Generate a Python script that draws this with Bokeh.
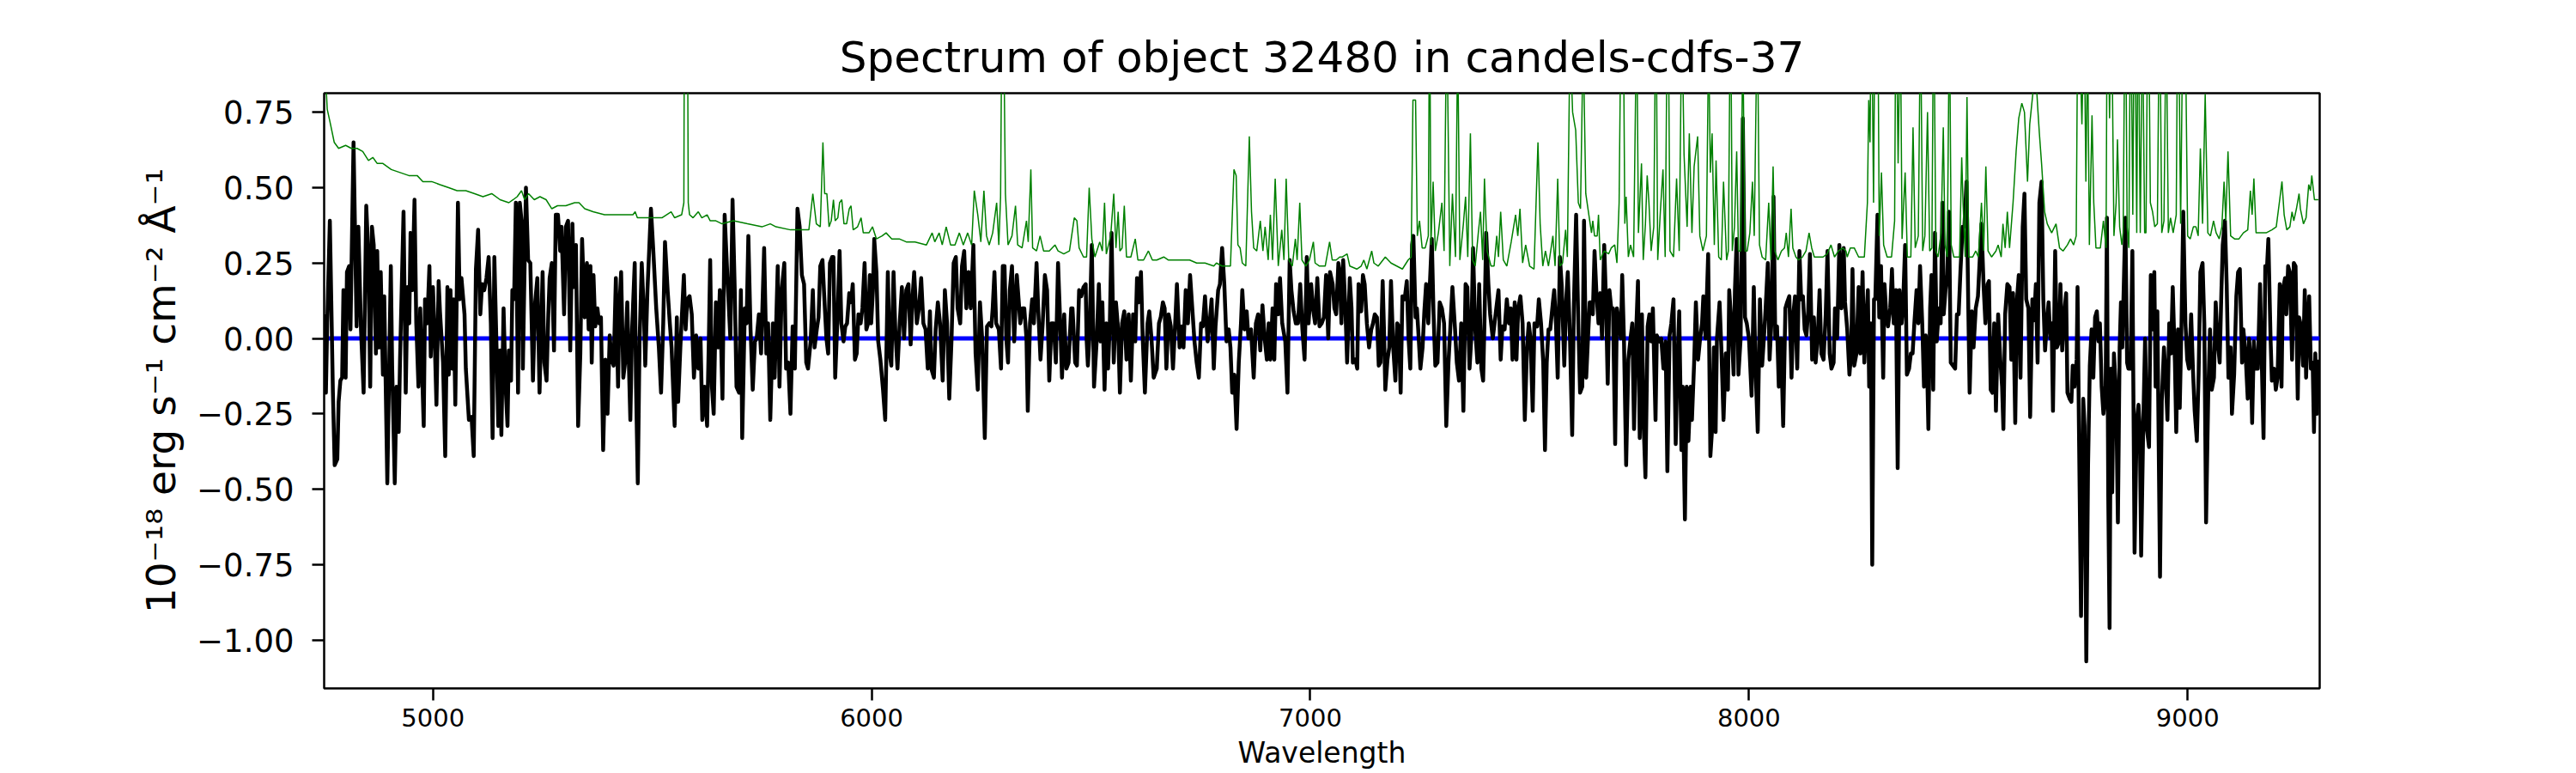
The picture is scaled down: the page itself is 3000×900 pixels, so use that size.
from bokeh.plotting import figure
from bokeh.models import Range1d, FixedTicker, CustomJSTickFormatter
from bokeh.embed import file_html
from bokeh.resources import INLINE

TITLE = "Spectrum of object 32480 in candels-cdfs-37"
X_LABEL = "Wavelength"
Y_LABEL = "10⁻¹⁸ erg s⁻¹ cm⁻² Å⁻¹"
X_TICKS = [5000, 6000, 7000, 8000, 9000]
Y_TICKS = [-1.0, -0.75, -0.5, -0.25, 0.0, 0.25, 0.5, 0.75]
X_LIMITS = (4752, 9301)
Y_LIMITS = (-1.160, 0.813)

# model (zero) line
ZERO_WAVE = [4752, 9301]
ZERO_FLUX = [0.0, 0.0]

FLUX_WAVE_1 = [
    4752, 4756, 4759, 4765, 4772, 4776, 4782, 4785, 4789, 4793,
    4796, 4801, 4804, 4809, 4812, 4819, 4826, 4830, 4836, 4842,
    4848, 4853, 4857, 4861, 4865, 4870, 4873, 4877, 4881, 4886,
    4889, 4896, 4904, 4907, 4913, 4917, 4922, 4925, 4933, 4938,
    4942, 4946, 4949, 4953, 4958, 4962, 4967, 4971, 4979, 4982,
    4987, 4992, 4995, 5000, 5003, 5008, 5013, 5016, 5023, 5028,
    5033, 5036, 5040, 5044, 5047, 5051, 5057, 5061, 5065, 5072,
    5075, 5082, 5088, 5093, 5098, 5103, 5108, 5112, 5117, 5122,
    5127, 5132, 5136, 5140, 5145, 5149, 5153, 5156, 5161, 5166,
    5170, 5173, 5178, 5181, 5185, 5189, 5194, 5198, 5202, 5205,
    5212, 5217, 5222, 5228, 5233, 5238, 5243, 5250, 5254, 5259,
    5263, 5266, 5271, 5276, 5280, 5285, 5290, 5293, 5299, 5303,
    5308, 5313, 5318, 5321, 5326, 5331, 5336]
FLUX_1 = [
    0.08, -0.18, 0.05, 0.39, -0.18, -0.42, -0.40, -0.21, -0.14, -0.13,
    0.16, -0.13, 0.22, 0.24, 0.03, 0.65, 0.04, 0.37, 0.03, -0.18,
    0.44, 0.27, -0.16, 0.37, 0.31, -0.05, 0.29, -0.03, 0.22, -0.12,
    0.14, -0.48, 0.24, -0.09, -0.48, -0.16, -0.31, -0.07, 0.42, -0.18,
    0.17, 0.05, 0.35, 0.16, 0.46, 0.05, -0.16, 0.10, -0.29, 0.13,
    0.05, 0.24, -0.06, 0.17, 0.05, -0.22, 0.19, 0.09, -0.08, -0.39,
    0.17, -0.12, 0.16, -0.10, 0.13, -0.22, 0.45, 0.13, 0.20, 0.08,
    -0.10, -0.27, -0.26, -0.39, 0.23, 0.36, 0.08, 0.18, 0.16, 0.20,
    0.27, 0.05, -0.33, 0.27, -0.03, -0.29, -0.04, -0.32, 0.10, -0.17,
    -0.29, -0.04, -0.14, 0.16, 0.13, 0.45, -0.18, 0.45, 0.39, -0.10,
    0.50, 0.26, 0.25, -0.14, 0.12, 0.20, -0.18, 0.22, -0.08, -0.14,
    0.08, 0.20, 0.25, -0.04, 0.41, 0.41, 0.29, 0.37, 0.08, 0.37,
    0.39, -0.04, 0.38, 0.17, 0.31, -0.29, -0.05]

FLUX_WAVE_2 = [
    5340, 5346, 5351, 5355, 5359, 5362, 5366, 5370, 5375, 5379,
    5383, 5388, 5393, 5398, 5403, 5407, 5412, 5417, 5422, 5425,
    5429, 5434, 5438, 5443, 5450, 5454, 5460, 5463, 5467, 5471,
    5476, 5481, 5484, 5489, 5497, 5502, 5509, 5515, 5520, 5525,
    5529, 5535, 5540, 5544, 5551, 5556, 5559, 5564, 5572, 5576,
    5580, 5585, 5590, 5595, 5600, 5605, 5610, 5614, 5619, 5625,
    5629, 5632, 5636, 5640, 5645, 5650, 5654, 5660, 5665, 5672,
    5678, 5683, 5688, 5692, 5698, 5702, 5705, 5711, 5715, 5719,
    5724, 5729, 5734, 5738, 5743, 5748, 5755, 5760, 5764, 5769,
    5775, 5779, 5786, 5790, 5795, 5801, 5805, 5810, 5815, 5820,
    5825, 5831, 5836, 5841, 5846, 5851, 5855, 5861, 5866, 5870,
    5875, 5879, 5883, 5888, 5892, 5897, 5901, 5905, 5910]
FLUX_2 = [
    0.33, 0.07, 0.25, 0.03, 0.24, -0.08, 0.21, 0.04, 0.10, 0.05,
    0.07, -0.37, -0.07, -0.25, 0.01, -0.07, -0.09, 0.20, -0.16, 0.10,
    0.22, -0.13, -0.08, 0.12, -0.27, 0.03, 0.25, -0.16, -0.48, -0.01,
    0.25, 0.08, -0.09, 0.16, 0.43, 0.30, 0.10, -0.03, -0.18, 0.05,
    0.32, 0.16, 0.05, -0.03, -0.29, 0.07, -0.21, -0.03, 0.21, 0.03,
    0.13, 0.14, 0.08, -0.13, 0.01, -0.10, 0.00, -0.27, -0.16, -0.29,
    0.00, 0.26, -0.16, -0.25, 0.12, -0.03, 0.16, -0.20, 0.41, 0.18,
    0.00, 0.46, 0.16, -0.16, -0.18, 0.16, -0.33, 0.10, 0.05, 0.34,
    0.03, -0.17, -0.01, 0.00, 0.08, -0.05, 0.30, -0.05, 0.05, -0.27,
    0.05, -0.13, 0.24, -0.16, 0.16, 0.25, -0.10, -0.08, -0.25, 0.04,
    -0.10, 0.43, 0.37, 0.21, 0.18, -0.08, -0.10, -0.01, 0.16, -0.03,
    0.03, 0.07, 0.24, 0.26, 0.14, 0.00, -0.05, 0.25, 0.27]

FLUX_WAVE_3 = [
    5913, 5917, 5923, 5927, 5931, 5936, 5940, 5944, 5949, 5953,
    5957, 5962, 5966, 5970, 5975, 5979, 5984, 5988, 5992, 5996,
    5999, 6003, 6006, 6011, 6015, 6020, 6026, 6031, 6037, 6041,
    6045, 6050, 6054, 6059, 6064, 6069, 6074, 6079, 6084, 6089,
    6093, 6097, 6103, 6108, 6113, 6118, 6123, 6128, 6133, 6136,
    6142, 6146, 6151, 6156, 6162, 6167, 6172, 6177, 6182, 6187,
    6192, 6196, 6202, 6206, 6211, 6216, 6221, 6226, 6232, 6237,
    6242, 6247, 6252, 6258, 6263, 6268, 6273, 6276, 6280, 6284,
    6290, 6295, 6299, 6303, 6307, 6311, 6315, 6320, 6325, 6331,
    6335, 6339, 6344, 6348, 6353, 6356, 6361, 6366, 6370, 6376,
    6380, 6385, 6390, 6395, 6400, 6405, 6410, 6415, 6420, 6425,
    6430, 6434, 6439, 6444, 6449, 6455, 6458, 6464, 6468, 6473,
    6478, 6483, 6488]
FLUX_3 = [
    0.27, -0.13, 0.10, 0.29, 0.05, -0.01, 0.04, 0.05, 0.15, 0.12,
    0.18, -0.07, -0.05, 0.08, 0.05, 0.10, 0.25, 0.03, 0.05, 0.21,
    0.05, 0.16, 0.33, 0.22, -0.01, -0.07, -0.17, -0.27, 0.22, -0.05,
    -0.09, 0.22, 0.03, -0.10, 0.05, 0.17, 0.00, 0.16, 0.18, -0.02,
    0.13, 0.22, 0.05, 0.10, 0.20, 0.05, 0.03, -0.10, 0.09, -0.10,
    -0.13, 0.03, 0.12, 0.05, -0.14, 0.16, 0.05, -0.20, -0.01, 0.25,
    0.27, 0.10, 0.05, 0.24, 0.29, 0.10, 0.22, 0.10, 0.31, -0.05,
    -0.17, 0.12, 0.00, -0.33, 0.04, 0.05, 0.04, 0.10, 0.22, 0.05,
    0.03, -0.10, 0.24, 0.24, 0.00, -0.08, 0.16, 0.24, -0.01, 0.21,
    0.13, 0.05, 0.10, 0.10, 0.00, -0.24, 0.05, 0.13, 0.05, 0.25,
    0.09, -0.07, 0.05, 0.21, 0.16, -0.14, 0.05, 0.05, -0.08, 0.25,
    0.05, -0.13, 0.08, -0.10, -0.08, 0.10, 0.10, -0.08, -0.09, 0.16,
    0.14, 0.17, 0.18]

FLUX_WAVE_4 = [
    6490, 6493, 6496, 6502, 6507, 6513, 6518, 6522, 6526, 6531,
    6535, 6539, 6543, 6547, 6552, 6557, 6562, 6566, 6571, 6576,
    6581, 6586, 6591, 6596, 6601, 6605, 6609, 6614, 6618, 6623,
    6629, 6633, 6638, 6643, 6650, 6655, 6659, 6664, 6668, 6672,
    6677, 6682, 6687, 6692, 6696, 6702, 6707, 6711, 6716, 6721,
    6726, 6731, 6736, 6741, 6746, 6751, 6755, 6760, 6766, 6770,
    6775, 6780, 6784, 6790, 6794, 6799, 6804, 6809, 6814, 6818,
    6822, 6827, 6832, 6837, 6842, 6845, 6850, 6855, 6859, 6865,
    6871, 6876, 6881, 6886, 6891, 6896, 6901, 6905, 6909, 6914,
    6918, 6922, 6927, 6931, 6936, 6943, 6948, 6953, 6957, 6962,
    6967, 6972, 6977, 6982, 6987, 6992, 6996, 7002, 7007, 7011,
    7016, 7021, 7026, 7031, 7036, 7041, 7045, 7051, 7055, 7059,
    7064]
FLUX_4 = [
    0.00, -0.09, -0.01, 0.31, -0.16, -0.01, 0.18, -0.01, 0.12, -0.17,
    0.05, -0.10, 0.05, 0.35, -0.08, 0.12, 0.03, -0.18, 0.05, 0.09,
    -0.07, 0.08, -0.14, 0.08, -0.01, 0.20, 0.12, 0.22, 0.00, -0.18,
    0.05, 0.09, 0.00, -0.13, -0.10, 0.05, 0.07, 0.12, 0.10, -0.10,
    0.08, 0.04, -0.10, 0.05, 0.18, -0.03, 0.04, -0.03, 0.16, 0.05,
    0.21, 0.10, -0.01, -0.08, -0.13, 0.05, 0.04, 0.14, -0.01, 0.04,
    0.13, -0.10, 0.04, 0.16, 0.18, 0.30, 0.18, -0.01, 0.03, -0.03,
    -0.18, -0.12, -0.30, -0.08, 0.05, 0.16, 0.03, 0.09, 0.00, 0.03,
    -0.13, 0.05, 0.08, -0.04, 0.11, 0.00, -0.07, 0.05, -0.07, 0.10,
    -0.07, 0.18, 0.08, 0.20, 0.05, -0.01, -0.18, 0.26, 0.16, 0.09,
    0.05, 0.05, 0.18, 0.03, -0.07, 0.27, 0.05, 0.18, 0.09, 0.05,
    0.20, 0.04, 0.05, 0.07, 0.21, 0.00, 0.22, 0.18, 0.10, 0.08,
    0.25]

FLUX_WAVE_5 = [
    7067, 7071, 7075, 7080, 7084, 7090, 7094, 7097, 7103, 7107,
    7110, 7116, 7120, 7124, 7129, 7134, 7139, 7143, 7147, 7152,
    7156, 7160, 7165, 7168, 7171, 7176, 7180, 7184, 7189, 7194,
    7198, 7202, 7206, 7210, 7215, 7220, 7224, 7228, 7232, 7235,
    7240, 7243, 7246, 7251, 7256, 7260, 7264, 7269, 7272, 7277,
    7281, 7285, 7290, 7295, 7300, 7305, 7310, 7315, 7319, 7324,
    7330, 7334, 7339, 7344, 7349, 7354, 7358, 7363, 7367, 7371,
    7376, 7381, 7385, 7390, 7394, 7397, 7401, 7406, 7410, 7416,
    7420, 7424, 7429, 7434, 7438, 7443, 7448, 7453, 7457, 7461,
    7466, 7470, 7474, 7479, 7484, 7489, 7494, 7498, 7502, 7507,
    7511, 7517, 7521, 7526, 7531, 7535, 7539, 7543, 7547, 7553,
    7556, 7560, 7564, 7569, 7573, 7579, 7583, 7587, 7592, 7597,
    7601, 7606, 7611, 7615, 7620, 7624, 7629, 7634, 7637, 7642]
FLUX_5 = [
    0.22, 0.05, 0.26, 0.10, -0.08, 0.20, 0.10, -0.08, -0.07, -0.10,
    0.18, 0.09, 0.21, 0.18, 0.05, -0.03, 0.03, 0.05, 0.08, 0.07,
    -0.09, -0.08, 0.19, 0.03, -0.17, -0.07, -0.03, 0.19, -0.03, -0.14,
    0.05, 0.04, -0.18, 0.14, 0.13, 0.19, 0.00, -0.10, 0.31, 0.34,
    0.07, 0.10, 0.03, -0.10, -0.03, 0.09, 0.18, 0.05, 0.16, 0.33,
    0.08, -0.09, -0.08, 0.12, 0.10, 0.05, -0.29, -0.08, 0.03, 0.17,
    0.03, -0.08, -0.14, 0.05, -0.24, 0.18, 0.17, -0.10, 0.00, 0.30,
    0.03, -0.08, 0.18, -0.10, -0.14, 0.05, 0.35, 0.18, 0.08, 0.00,
    0.05, 0.10, 0.16, -0.07, 0.04, 0.03, 0.13, 0.05, 0.10, -0.07,
    0.12, -0.07, 0.10, 0.14, 0.05, -0.27, -0.03, 0.05, 0.00, -0.24,
    0.05, 0.04, 0.13, 0.05, -0.08, -0.37, -0.08, 0.03, 0.03, 0.12,
    0.16, 0.05, -0.13, 0.27, 0.18, -0.09, 0.12, 0.22, 0.00, -0.32,
    0.12, 0.41, 0.05, -0.18, -0.16, 0.39, -0.13, 0.03, 0.12, 0.12]

FLUX_WAVE_6 = [
    7644, 7648, 7652, 7657, 7661, 7665, 7670, 7674, 7678, 7682,
    7686, 7690, 7695, 7699, 7704, 7708, 7711, 7715, 7720, 7725,
    7730, 7734, 7738, 7743, 7747, 7751, 7756, 7760, 7764, 7769,
    7773, 7777, 7781, 7787, 7790, 7796, 7800, 7805, 7810, 7814,
    7819, 7823, 7828, 7833, 7837, 7841, 7846, 7849, 7854, 7858,
    7862, 7867, 7870, 7875, 7879, 7884, 7888, 7893, 7896, 7901,
    7907, 7912, 7916, 7920, 7924, 7927, 7933, 7937, 7942, 7947,
    7952, 7955, 7960, 7965, 7968, 7972, 7976, 7981, 7986, 7991,
    7995, 8000, 8006, 8011, 8015, 8020, 8025, 8030, 8034, 8038,
    8043, 8047, 8051, 8056, 8060, 8064, 8068, 8073, 8078, 8083,
    8087, 8092, 8097, 8101, 8105, 8110, 8115, 8119, 8123, 8127,
    8131, 8135, 8139, 8144, 8148, 8152, 8157, 8161, 8165, 8170,
    8175, 8179, 8184, 8188, 8193, 8196, 8201, 8206, 8211, 8216,
    8219]
FLUX_6 = [
    0.08, 0.29, 0.16, 0.05, 0.15, 0.00, 0.31, 0.13, -0.15, 0.16,
    0.10, 0.10, -0.35, 0.10, 0.05, 0.00, 0.21, 0.00, -0.42, -0.07,
    0.00, 0.05, -0.30, 0.03, 0.19, -0.33, 0.08, -0.29, -0.46, 0.04,
    0.08, -0.01, 0.10, -0.27, 0.01, -0.01, 0.00, -0.10, -0.01, -0.44,
    0.01, 0.05, 0.13, -0.35, -0.08, 0.09, -0.37, -0.16, -0.60, -0.16,
    -0.34, -0.16, -0.27, -0.08, 0.12, -0.07, -0.01, 0.05, 0.14, 0.00,
    0.28, -0.39, -0.30, -0.03, -0.31, 0.00, 0.12, -0.03, -0.27, -0.05,
    -0.17, 0.16, 0.05, -0.12, 0.16, 0.33, -0.12, 0.00, 0.73, 0.07,
    0.05, 0.00, -0.19, 0.17, -0.10, -0.31, 0.13, -0.09, 0.00, 0.10,
    0.25, -0.07, 0.05, 0.47, 0.00, 0.04, -0.16, 0.00, -0.29, 0.10,
    0.12, 0.14, -0.13, 0.08, 0.14, -0.10, 0.29, 0.13, 0.14, 0.03,
    0.01, 0.09, 0.28, -0.07, 0.07, -0.08, 0.01, 0.16, -0.05, -0.07,
    0.08, 0.29, -0.05, -0.10, -0.08, 0.10, 0.00, 0.31, 0.10, 0.30,
    0.12]

FLUX_WAVE_7 = [
    8224, 8229, 8233, 8236, 8240, 8245, 8250, 8254, 8259, 8263,
    8267, 8271, 8274, 8278, 8281, 8285, 8288, 8293, 8297, 8301,
    8306, 8309, 8313, 8317, 8322, 8326, 8330, 8335, 8339, 8343,
    8348, 8351, 8356, 8360, 8365, 8369, 8373, 8377, 8382, 8386,
    8390, 8395, 8399, 8403, 8407, 8409, 8413, 8416, 8420, 8424,
    8428, 8433, 8437, 8441, 8444, 8448, 8452, 8456, 8460, 8465,
    8470, 8474, 8478, 8482, 8487, 8491, 8496, 8500, 8503, 8508,
    8512, 8517, 8522, 8527, 8530, 8535, 8539, 8544, 8547, 8551,
    8555, 8559, 8563, 8568, 8573, 8577, 8580, 8584, 8589, 8594,
    8598, 8602, 8607, 8611, 8615, 8619, 8624, 8628, 8632, 8637,
    8641, 8646, 8650, 8654, 8658, 8662, 8667, 8671, 8675, 8679,
    8683, 8687, 8690, 8693, 8698, 8702, 8707, 8710, 8714, 8718,
    8723, 8726, 8731, 8735, 8738, 8742, 8747, 8749, 8752, 8757,
    8762, 8765, 8769, 8773, 8777, 8781, 8785, 8789, 8793, 8797]
FLUX_7 = [
    0.03, -0.12, -0.05, 0.23, -0.09, -0.05, 0.17, -0.05, 0.22, -0.08,
    0.05, 0.16, -0.16, 0.05, -0.75, 0.13, 0.13, 0.41, 0.07, 0.24,
    -0.13, 0.18, 0.08, 0.04, 0.10, 0.23, 0.05, 0.16, -0.43, 0.16,
    0.05, 0.10, 0.31, -0.12, -0.10, -0.05, -0.05, 0.05, 0.16, 0.05,
    0.24, 0.05, -0.16, 0.01, -0.16, -0.30, 0.10, 0.21, -0.17, 0.35,
    -0.01, 0.10, 0.05, 0.45, 0.08, 0.16, 0.21, 0.42, -0.08, -0.09,
    -0.10, 0.08, 0.08, 0.22, 0.37, 0.37, 0.52, 0.10, -0.18, 0.09,
    -0.03, 0.10, 0.14, 0.29, 0.38, 0.17, 0.05, 0.18, 0.19, -0.17,
    -0.18, 0.05, -0.24, 0.08, -0.07, -0.16, -0.30, 0.08, 0.18, 0.17,
    -0.07, 0.15, -0.28, 0.13, 0.21, -0.13, 0.37, 0.48, 0.13, 0.10,
    -0.26, 0.13, 0.06, 0.18, -0.08, 0.45, 0.52, 0.13, -0.04, 0.05,
    0.12, 0.00, 0.05, -0.24, 0.29, -0.03, -0.01, 0.18, -0.04, 0.07,
    0.15, -0.18, -0.20, -0.21, -0.09, -0.16, -0.07, 0.17, -0.27, -0.92,
    -0.20, -0.29, -1.07, -0.42, -0.09, 0.03, -0.13, 0.07, 0.09, -0.01]

FLUX_WAVE_8 = [
    8800, 8804, 8808, 8813, 8816, 8819, 8822, 8825, 8828, 8832,
    8837, 8841, 8845, 8848, 8851, 8855, 8858, 8862, 8865, 8870,
    8874, 8879, 8884, 8888, 8891, 8894, 8899, 8903, 8907, 8912,
    8916, 8920, 8924, 8927, 8931, 8937, 8941, 8946, 8950, 8954,
    8958, 8962, 8966, 8971, 8974, 8978, 8982, 8986, 8990, 8995,
    8999, 9003, 9008, 9012, 9016, 9021, 9025, 9029, 9034, 9038,
    9042, 9047, 9051, 9055, 9060, 9064, 9068, 9073, 9077, 9080,
    9085, 9089, 9093, 9098, 9101, 9106, 9111, 9115, 9119, 9124,
    9127, 9132, 9137, 9140, 9144, 9147, 9151, 9155, 9160, 9165,
    9169, 9173, 9177, 9181, 9184, 9189, 9192, 9197, 9201, 9205,
    9210, 9214, 9217, 9222, 9225, 9229, 9233, 9238, 9242, 9246,
    9251, 9254, 9257, 9263, 9267, 9270, 9274, 9277, 9281, 9285,
    9288, 9291, 9295, 9298]
FLUX_8 = [
    0.05, -0.16, -0.25, -0.18, 0.40, -0.52, -0.96, -0.10, -0.51, -0.05,
    -0.18, -0.61, -0.03, 0.12, -0.03, 0.21, 0.40, -0.08, -0.10, -0.10,
    0.29, -0.71, -0.27, -0.22, -0.30, -0.72, -0.27, 0.00, -0.30, -0.36,
    0.21, 0.03, 0.22, -0.16, 0.09, -0.79, -0.21, -0.03, -0.13, -0.27,
    0.05, -0.05, 0.17, -0.08, -0.31, 0.03, -0.23, 0.05, 0.42, 0.05,
    -0.07, -0.10, 0.08, -0.10, -0.24, -0.34, -0.12, 0.22, 0.25, 0.05,
    -0.61, -0.18, 0.03, -0.17, -0.13, 0.12, 0.00, -0.08, 0.16, 0.31,
    0.39, 0.18, -0.13, -0.03, -0.25, -0.12, 0.14, 0.22, 0.23, -0.08,
    0.03, -0.05, -0.20, 0.00, -0.08, -0.28, -0.01, -0.10, -0.10, 0.18,
    -0.08, -0.33, 0.24, 0.24, 0.33, 0.00, -0.14, -0.10, -0.17, -0.13,
    0.18, -0.16, 0.16, 0.20, 0.08, 0.24, 0.22, -0.07, 0.25, 0.24,
    -0.20, 0.07, 0.05, -0.09, 0.16, -0.13, 0.05, 0.14, -0.10, -0.08,
    -0.31, -0.05, -0.25, -0.07]

# ---- noise / sky spectrum (green) in segments ----
ERR_WAVE_1 = [
    4752, 4757, 4759, 4765, 4775, 4785, 4801, 4814, 4827, 4840,
    4853, 4863, 4873, 4886, 4905, 4925, 4945, 4964, 4977, 4997,
    5016, 5036, 5055, 5075, 5095, 5114, 5134, 5153, 5173, 5183,
    5192, 5202, 5209, 5218, 5231, 5244, 5258, 5271, 5284, 5303,
    5323]
ERR_1 = [
    0.95, 0.82, 0.76, 0.72, 0.65, 0.63, 0.64, 0.63, 0.63, 0.62,
    0.59, 0.60, 0.58, 0.58, 0.56, 0.55, 0.54, 0.54, 0.52, 0.52,
    0.51, 0.50, 0.49, 0.49, 0.48, 0.47, 0.48, 0.46, 0.45, 0.46,
    0.47, 0.49, 0.46, 0.48, 0.46, 0.47, 0.46, 0.43, 0.44, 0.44,
    0.45]

ERR_WAVE_2 = [
    5333, 5346, 5365, 5391, 5411, 5430, 5456, 5461, 5466, 5489,
    5522, 5543, 5551, 5567, 5572, 5574, 5579, 5582, 5585, 5593,
    5605, 5613, 5625, 5632, 5645, 5659, 5685, 5717, 5750, 5769,
    5782, 5815, 5841, 5857, 5866, 5874, 5883, 5889, 5893, 5898,
    5903, 5908]
ERR_2 = [
    0.45, 0.43, 0.42, 0.41, 0.41, 0.41, 0.41, 0.42, 0.40, 0.40,
    0.40, 0.42, 0.40, 0.41, 0.45, 1.60, 1.60, 0.45, 0.41, 0.40,
    0.42, 0.40, 0.41, 0.39, 0.39, 0.38, 0.39, 0.38, 0.37, 0.38,
    0.37, 0.36, 0.36, 0.36, 0.48, 0.38, 0.37, 0.65, 0.48, 0.48,
    0.37, 0.39]

ERR_WAVE_3 = [
    5913, 5917, 5923, 5927, 5932, 5937, 5943, 5949, 5953, 5958,
    5968, 5976, 5981, 5994, 6002, 6011, 6024, 6033, 6046, 6063,
    6079, 6099, 6125, 6138, 6144, 6154, 6161, 6170, 6180, 6190,
    6200, 6209, 6219, 6228, 6234, 6242, 6249, 6256, 6262, 6268,
    6276, 6285, 6290, 6294, 6297, 6302, 6305, 6311, 6320, 6328,
    6333, 6343, 6353, 6357, 6363, 6367, 6376, 6384, 6392, 6405,
    6418, 6425, 6438, 6451, 6462, 6468, 6473, 6483, 6490]
ERR_3 = [
    0.46, 0.39, 0.40, 0.45, 0.46, 0.38, 0.38, 0.43, 0.44, 0.36,
    0.37, 0.40, 0.35, 0.35, 0.37, 0.33, 0.34, 0.35, 0.33, 0.33,
    0.32, 0.32, 0.31, 0.35, 0.32, 0.35, 0.31, 0.37, 0.31, 0.31,
    0.35, 0.31, 0.35, 0.31, 0.49, 0.41, 0.32, 0.49, 0.34, 0.31,
    0.35, 0.45, 0.31, 0.47, 1.10, 0.90, 0.48, 0.31, 0.34, 0.44,
    0.31, 0.30, 0.39, 0.32, 0.56, 0.30, 0.29, 0.34, 0.29, 0.29,
    0.31, 0.29, 0.28, 0.29, 0.40, 0.39, 0.30, 0.27, 0.27]

ERR_WAVE_4 = [
    6496, 6502, 6509, 6520, 6526, 6531, 6535, 6545, 6552, 6557,
    6562, 6566, 6571, 6576, 6581, 6591, 6601, 6607, 6620, 6631,
    6640, 6650, 6666, 6676, 6695, 6708, 6725, 6741, 6760, 6780,
    6786, 6799, 6818, 6826, 6831, 6835, 6840, 6845, 6853, 6861,
    6866, 6871, 6878, 6886, 6892, 6897, 6904, 6909, 6914, 6920,
    6927, 6935, 6940, 6945, 6951, 6959, 6966, 6970, 6976, 6981,
    6990, 6998, 7007, 7011, 7021, 7034, 7044, 7050, 7059, 7067]
ERR_4 = [
    0.50, 0.33, 0.27, 0.32, 0.29, 0.45, 0.28, 0.34, 0.48, 0.30,
    0.42, 0.29, 0.30, 0.44, 0.27, 0.27, 0.33, 0.26, 0.26, 0.29,
    0.26, 0.26, 0.27, 0.26, 0.26, 0.26, 0.26, 0.25, 0.25, 0.24,
    0.25, 0.24, 0.24, 0.56, 0.54, 0.31, 0.30, 0.25, 0.24, 0.67,
    0.42, 0.30, 0.29, 0.39, 0.29, 0.37, 0.26, 0.41, 0.26, 0.53,
    0.24, 0.36, 0.26, 0.53, 0.26, 0.24, 0.33, 0.26, 0.45, 0.26,
    0.24, 0.26, 0.32, 0.25, 0.24, 0.24, 0.32, 0.26, 0.26, 0.27]

ERR_WAVE_5 = [
    7073, 7084, 7090, 7106, 7116, 7122, 7129, 7140, 7145, 7155,
    7171, 7184, 7197, 7210, 7223, 7230, 7234, 7240, 7244, 7249,
    7255, 7262, 7269, 7272, 7275, 7280, 7285, 7292, 7300, 7305,
    7311, 7318, 7324, 7331, 7336, 7341, 7349, 7354, 7359, 7365,
    7370, 7376, 7383, 7388, 7393, 7397, 7403, 7412, 7419, 7425,
    7429, 7434, 7440, 7448, 7458, 7468, 7473, 7478, 7484, 7491,
    7500, 7510, 7519, 7524, 7530, 7536, 7543, 7553, 7558, 7564,
    7569, 7575, 7582, 7586, 7592, 7598, 7605, 7611, 7616, 7622,
    7628, 7634, 7641]
ERR_5 = [
    0.27, 0.28, 0.24, 0.23, 0.24, 0.26, 0.23, 0.29, 0.25, 0.24,
    0.27, 0.25, 0.24, 0.23, 0.26, 0.27, 0.79, 0.79, 0.34, 0.39,
    0.30, 0.30, 0.34, 1.20, 0.31, 0.52, 0.29, 0.35, 0.45, 0.29,
    1.10, 0.24, 0.48, 0.27, 1.00, 0.26, 0.38, 0.47, 0.27, 0.68,
    0.26, 0.24, 0.35, 0.42, 0.26, 0.53, 0.29, 0.24, 0.24, 0.34,
    0.27, 0.42, 0.26, 0.24, 0.32, 0.41, 0.34, 0.43, 0.25, 0.31,
    0.24, 0.23, 0.65, 0.38, 0.24, 0.29, 0.24, 0.34, 0.24, 0.53,
    0.24, 0.25, 0.36, 0.27, 1.00, 0.75, 0.69, 0.45, 0.43, 1.00,
    0.48, 0.42, 0.35]

ERR_WAVE_6 = [
    7644, 7648, 7654, 7657, 7661, 7670, 7680, 7686, 7694, 7699,
    7704, 7709, 7714, 7717, 7720, 7725, 7730, 7737, 7744, 7748,
    7755, 7759, 7764, 7768, 7772, 7777, 7783, 7788, 7792, 7798,
    7804, 7809, 7815, 7820, 7828, 7835, 7841, 7847, 7852, 7859,
    7864, 7870, 7875, 7883, 7888, 7895, 7903, 7908, 7912, 7916,
    7921, 7925, 7931, 7937, 7942, 7949, 7953, 7958, 7962, 7967,
    7972, 7976, 7981, 7986, 7991, 7996, 8002, 8008, 8012, 8019,
    8024, 8030, 8038, 8045, 8050, 8055, 8059, 8066, 8074, 8081,
    8085, 8090, 8096, 8100, 8107, 8113, 8122, 8130, 8137, 8143,
    8149, 8159, 8169, 8178, 8187, 8195, 8204, 8214, 8221]
ERR_6 = [
    0.39, 0.34, 0.34, 0.41, 0.26, 0.29, 0.28, 0.30, 0.31, 0.25,
    0.45, 1.20, 1.00, 0.38, 0.47, 0.27, 0.31, 0.27, 1.10, 0.35,
    0.58, 0.26, 0.38, 0.54, 0.45, 0.29, 0.37, 1.20, 0.26, 0.42,
    0.56, 0.27, 1.30, 0.29, 0.27, 0.53, 0.29, 1.10, 0.61, 0.37,
    0.68, 0.35, 0.57, 0.67, 0.34, 0.29, 0.34, 1.00, 0.55, 0.68,
    0.31, 0.59, 0.27, 0.26, 0.52, 0.26, 0.29, 1.20, 0.29, 0.37,
    0.62, 0.29, 0.29, 1.00, 0.29, 0.29, 0.35, 0.52, 0.34, 1.10,
    0.31, 0.27, 0.26, 0.45, 0.26, 0.57, 0.29, 0.26, 0.29, 0.30,
    0.35, 0.27, 0.43, 0.30, 0.27, 0.26, 0.27, 0.29, 0.35, 0.30,
    0.27, 0.27, 0.27, 0.28, 0.31, 0.27, 0.29, 0.30, 0.29]

ERR_WAVE_7 = [
    8224, 8231, 8240, 8250, 8263, 8270, 8273, 8276, 8279, 8284,
    8288, 8293, 8297, 8302, 8307, 8315, 8325, 8332, 8335, 8340,
    8345, 8349, 8356, 8361, 8369, 8374, 8379, 8386, 8391, 8396,
    8401, 8407, 8412, 8417, 8421, 8426, 8431, 8438, 8443, 8447,
    8452, 8457, 8461, 8467, 8475, 8480, 8485, 8488, 8493, 8497,
    8501, 8510, 8517, 8523, 8530, 8535, 8540, 8545, 8553, 8563,
    8568, 8575, 8579, 8584, 8589, 8594, 8602, 8609, 8615, 8622,
    8628, 8635, 8640, 8647, 8651, 8658, 8662, 8667, 8674, 8680,
    8690, 8700, 8708, 8716, 8726, 8733, 8740, 8746, 8750, 8759,
    8764, 8768, 8772, 8776, 8782, 8786, 8791, 8798]
ERR_7 = [
    0.27, 0.30, 0.30, 0.27, 0.27, 0.45, 0.79, 0.65, 1.20, 0.45,
    1.30, 1.30, 0.34, 0.55, 0.31, 0.27, 0.27, 0.39, 1.20, 0.58,
    1.10, 0.33, 0.55, 0.27, 0.27, 0.70, 0.30, 0.34, 1.10, 0.29,
    0.34, 0.75, 0.29, 0.30, 1.20, 0.29, 0.27, 0.35, 0.70, 0.31,
    0.27, 1.10, 0.31, 0.27, 0.27, 0.27, 0.60, 0.45, 0.27, 0.80,
    0.27, 0.27, 0.29, 0.27, 0.45, 0.29, 0.57, 0.29, 0.27, 0.29,
    0.31, 0.27, 0.38, 0.30, 0.42, 0.30, 0.45, 0.62, 0.73, 0.78,
    0.75, 0.52, 0.71, 0.81, 0.95, 0.77, 0.68, 0.58, 0.42, 0.38,
    0.35, 0.38, 0.30, 0.29, 0.31, 0.33, 0.31, 0.34, 1.20, 0.71,
    1.10, 0.52, 1.00, 0.31, 0.74, 0.45, 0.30, 0.30]

ERR_WAVE_8 = [
    8801, 8808, 8814, 8817, 8822, 8826, 8832, 8837, 8840, 8845,
    8850, 8853, 8858, 8862, 8866, 8870, 8875, 8879, 8884, 8887,
    8892, 8897, 8902, 8905, 8910, 8915, 8920, 8925, 8931, 8936,
    8941, 8946, 8951, 8956, 8961, 8967, 8974, 8978, 8984, 8990,
    8995, 9000, 9006, 9013, 9019, 9024, 9029, 9034, 9040, 9046,
    9052, 9059, 9065, 9072, 9078, 9083, 9087, 9092, 9098, 9107,
    9117, 9127, 9137, 9143, 9147, 9151, 9156, 9166, 9179, 9192,
    9202, 9209, 9215, 9220, 9226, 9233, 9238, 9242, 9248, 9254,
    9257, 9264, 9270, 9276, 9280, 9283, 9289, 9294, 9298]
ERR_8 = [
    0.30, 0.39, 0.30, 1.30, 0.73, 1.20, 0.34, 0.45, 0.66, 0.37,
    0.31, 0.35, 1.30, 0.37, 0.30, 1.20, 0.41, 1.30, 0.35, 1.20,
    0.35, 1.10, 0.35, 0.35, 1.30, 0.45, 0.42, 0.37, 0.38, 1.20,
    0.35, 0.39, 1.10, 0.35, 0.40, 0.35, 0.41, 1.30, 0.38, 1.20,
    1.00, 0.34, 0.33, 0.37, 0.37, 0.34, 0.63, 0.38, 0.81, 0.35,
    0.34, 0.39, 0.35, 0.33, 0.37, 0.52, 0.39, 0.62, 0.34, 0.33,
    0.33, 0.35, 0.36, 0.49, 0.41, 0.53, 0.35, 0.35, 0.35, 0.36,
    0.37, 0.45, 0.52, 0.41, 0.36, 0.37, 0.42, 0.39, 0.43, 0.48,
    0.43, 0.38, 0.40, 0.51, 0.49, 0.54, 0.46, 0.46, 0.46]


def join(pairs):
    xs, ys = [], []
    for w, f in pairs:
        if len(w) != len(f):
            raise ValueError("segment length mismatch %d vs %d" % (len(w), len(f)))
        xs.extend(w)
        ys.extend(f)
    return xs, ys


flux_wave, flux = join([
    (FLUX_WAVE_1, FLUX_1), (FLUX_WAVE_2, FLUX_2), (FLUX_WAVE_3, FLUX_3),
    (FLUX_WAVE_4, FLUX_4), (FLUX_WAVE_5, FLUX_5), (FLUX_WAVE_6, FLUX_6),
    (FLUX_WAVE_7, FLUX_7), (FLUX_WAVE_8, FLUX_8)])
err_wave, err = join([
    (ERR_WAVE_1, ERR_1), (ERR_WAVE_2, ERR_2), (ERR_WAVE_3, ERR_3),
    (ERR_WAVE_4, ERR_4), (ERR_WAVE_5, ERR_5), (ERR_WAVE_6, ERR_6),
    (ERR_WAVE_7, ERR_7), (ERR_WAVE_8, ERR_8)])

FONT = "DejaVu Sans"

p = figure(
    width=3000, height=900,
    x_range=Range1d(*X_LIMITS), y_range=Range1d(*Y_LIMITS),
    output_backend="svg", toolbar_location=None,
    min_border_left=377, min_border_right=299,
    min_border_top=108, min_border_bottom=99,
    title=TITLE,
)
p.background_fill_color = "white"
p.border_fill_color = "white"
p.outline_line_color = "black"
p.outline_line_width = 2.5
p.xgrid.visible = False
p.ygrid.visible = False

p.title.text_font = FONT
p.title.text_font_size = "50px"
p.title.text_font_style = "normal"
p.title.text_color = "black"
p.title.align = "center"
p.title.standoff = 26

for ax in (p.xaxis[0], p.yaxis[0]):
    ax.axis_line_color = None
    ax.major_tick_line_color = "black"
    ax.major_tick_line_width = 2.5
    ax.major_tick_out = 14
    ax.major_tick_in = 0
    ax.minor_tick_line_color = None
    ax.major_label_text_font = FONT
    ax.major_label_text_color = "black"
    ax.axis_label_text_font = FONT
    ax.axis_label_text_font_style = "normal"
    ax.axis_label_text_color = "black"

p.xaxis.ticker = FixedTicker(ticks=X_TICKS)
p.xaxis.major_label_text_font_size = "29px"
p.xaxis.major_label_standoff = 9
p.xaxis.axis_label = X_LABEL
p.xaxis.axis_label_text_font_size = "33px"
p.xaxis.axis_label_standoff = 8

p.yaxis.ticker = FixedTicker(ticks=Y_TICKS)
p.yaxis.formatter = CustomJSTickFormatter(
    code="return (tick < 0 ? '\u2212' : '') + Math.abs(tick).toFixed(2);")
p.yaxis.major_label_text_font_size = "37px"
p.yaxis.major_label_standoff = 21
p.yaxis.axis_label = Y_LABEL
p.yaxis.axis_label_text_font_size = "47px"
p.yaxis.axis_label_standoff = 11

p.line(ZERO_WAVE, ZERO_FLUX, line_color="#0000ff", line_width=5)
p.line(flux_wave, flux, line_color="black", line_width=4.5, line_join="round")
p.line(err_wave, err, line_color="#008000", line_width=1.5)

open("out.html", "w", encoding="utf-8").write(file_html(p, INLINE))
